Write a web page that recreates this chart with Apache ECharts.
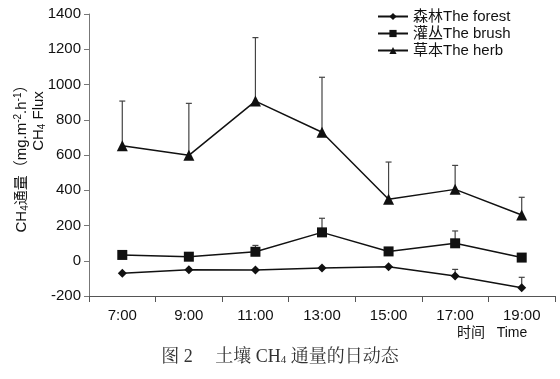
<!DOCTYPE html>
<html>
<head>
<meta charset="utf-8">
<script src="https://cdn.jsdelivr.net/npm/echarts@6/dist/echarts.min.js"></script>
<style>html,body{margin:0;padding:0;background:#fff;}#c{width:560px;height:379px;}</style>
</head>
<body>
<div id="c"></div>
<script>
const categories = ['7:00', '9:00', '11:00', '13:00', '15:00', '17:00', '19:00'];
const yTicks = [-200, 0, 200, 400, 600, 800, 1000, 1200, 1400];
const seriesNames = ['森林The forest', '灌丛The brush', '草本The herb'];
const forest = [-71, -51, -52, -41, -34, -87, -153];
const brush = [33, 23, 51, 161, 53, 99, 18];
const herb = [653, 598, 906, 729, 349, 405, 260];
const forestUpper = [null, null, null, null, null, -49, -94];
const brushUpper = [null, null, 87, 241, null, 169, null];
const herbUpper = [906, 893, 1266, 1041, 560, 541, 360];

const chart = echarts.init(document.getElementById('c'), null, {renderer: 'canvas'});
const sans = "'Liberation Sans', Arial, 'Noto Sans CJK SC', sans-serif";
const serif = "'Liberation Serif', 'Noto Serif CJK SC', 'Noto Sans CJK SC', serif";

function errData(means, uppers) {
  const out = [];
  means.forEach((m, i) => { if (uppers[i] != null) out.push([i, m, uppers[i]]); });
  return out;
}
function errSeries(means, uppers) {
  return {
    type: 'custom',
    silent: true,
    z: 1,
    encode: {x: 0, y: [1, 2]},
    data: errData(means, uppers),
    renderItem: function (params, api) {
      const p0 = api.coord([api.value(0), api.value(1)]);
      const p1 = api.coord([api.value(0), api.value(2)]);
      const half = 3;
      const st = {stroke: '#444', lineWidth: 1.2};
      return {
        type: 'group',
        children: [
          {type: 'line', shape: {x1: p0[0], y1: p0[1], x2: p1[0], y2: p1[1]}, style: st},
          {type: 'line', shape: {x1: p1[0] - half, y1: p1[1], x2: p1[0] + half, y2: p1[1]}, style: st}
        ]
      };
    }
  };
}
function lineSeries(name, data, symbol, size) {
  return {
    name: name,
    type: 'line',
    data: data,
    symbol: symbol,
    symbolSize: size,
    z: 3,
    lineStyle: {color: '#111', width: 1.5},
    itemStyle: {color: '#111'}
  };
}

const option = {
  animation: false,
  backgroundColor: '#fff',
  grid: {left: 89, right: 5, top: 14, bottom: 83, containLabel: false},
  legend: {
    orient: 'vertical',
    left: 372,
    top: 3,
    itemWidth: 30,
    itemHeight: 9,
    itemGap: 0,
    data: seriesNames,
    textStyle: {fontFamily: sans, fontSize: 15, color: '#111', lineHeight: 17}
  },
  title: {
    text: '图 2     土壤 CH{s|4} 通量的日动态',
    left: 'center',
    top: 343,
    textStyle: {
      fontFamily: serif, fontSize: 18, fontWeight: 'normal', color: '#333',
      rich: {s: {fontFamily: serif, fontSize: 11, verticalAlign: 'bottom', color: '#333', padding: [7, 0, 0, 0]}}
    }
  },
  xAxis: {
    type: 'category',
    data: categories,
    boundaryGap: true,
    axisLine: {onZero: false, lineStyle: {color: '#555', width: 1}},
    axisTick: {show: true, length: 6, inside: false, lineStyle: {color: '#555'}},
    axisLabel: {fontFamily: sans, fontSize: 15, color: '#111', margin: 12},
    splitLine: {show: false}
  },
  yAxis: {
    type: 'value',
    min: yTicks[0],
    max: yTicks[yTicks.length - 1],
    interval: 200,
    axisLine: {show: true, lineStyle: {color: '#777', width: 1}},
    axisTick: {show: true, length: 5, lineStyle: {color: '#777'}},
    axisLabel: {fontFamily: sans, fontSize: 15, color: '#111', margin: 8, formatter: function (v) { return String(v); }},
    splitLine: {show: false}
  },
  graphic: [
    {
      type: 'text', x: 22, y: 155, rotation: Math.PI / 2,
      style: {
        text: 'CH{s|4}通量（mg.m{p|-2}.h{p|-1}）',
        fontFamily: sans, fontSize: 15, fill: '#111',
        align: 'center', verticalAlign: 'middle',
        rich: {
          s: {fontFamily: sans, fontSize: 10, verticalAlign: 'bottom', fill: '#111', padding: [7, 0, 0, 0]},
          p: {fontFamily: sans, fontSize: 10, verticalAlign: 'top', fill: '#111', padding: [0, 0, 6, 0]}
        }
      }
    },
    {
      type: 'text', x: 39, y: 121, rotation: Math.PI / 2,
      style: {
        text: 'CH{s|4} Flux',
        fontFamily: sans, fontSize: 15, fill: '#111',
        align: 'center', verticalAlign: 'middle',
        rich: {
          s: {fontFamily: sans, fontSize: 10, verticalAlign: 'bottom', fill: '#111', padding: [7, 0, 0, 0]}
        }
      }
    },
    {
      type: 'text', x: 457, y: 333,
      style: {text: '时间   Time', fontFamily: sans, fontSize: 14, fill: '#111', align: 'left', verticalAlign: 'middle'}
    }
  ],
  series: [
    errSeries(forest, forestUpper),
    errSeries(brush, brushUpper),
    errSeries(herb, herbUpper),
    lineSeries(seriesNames[0], forest, 'diamond', 9),
    lineSeries(seriesNames[1], brush, 'rect', 10),
    lineSeries(seriesNames[2], herb, 'triangle', 11)
  ]
};
chart.setOption(option);
</script>
</body>
</html>
